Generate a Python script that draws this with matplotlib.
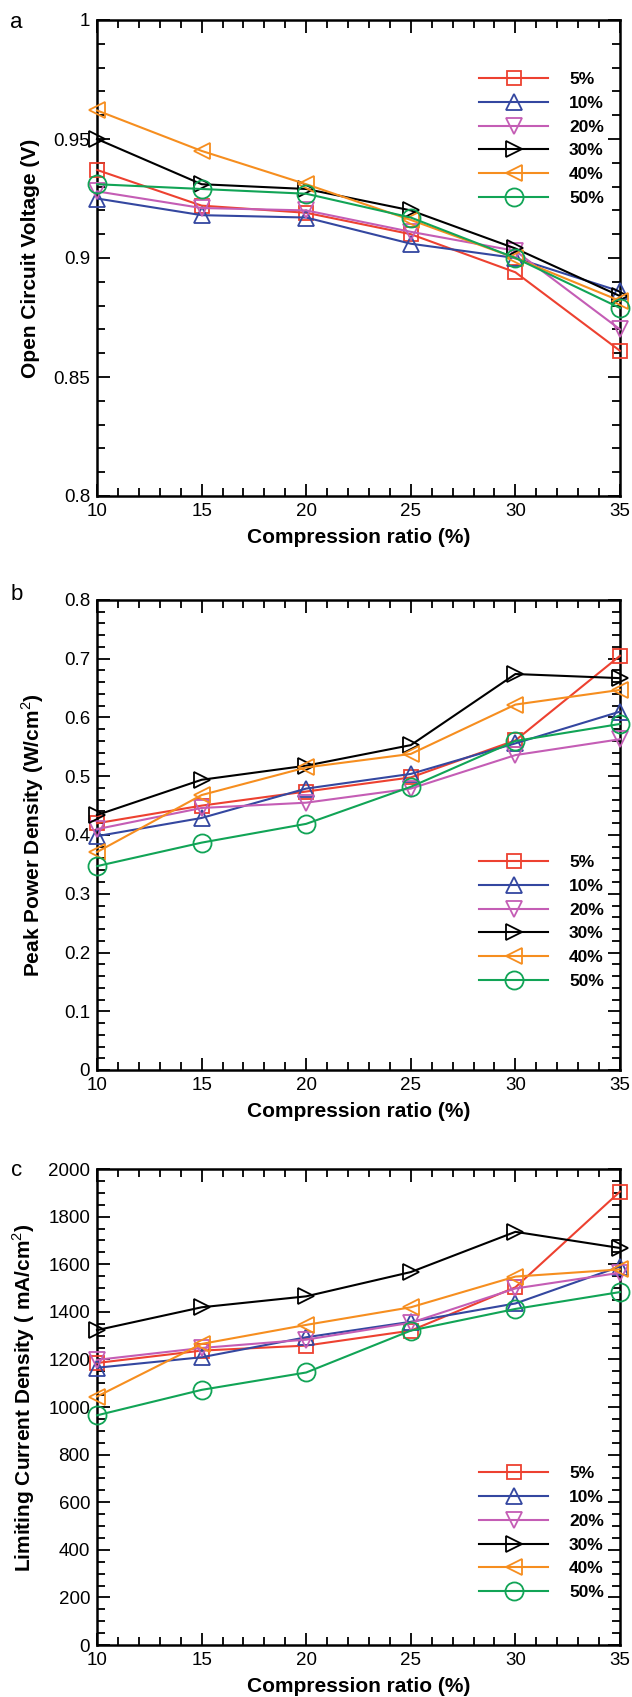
import matplotlib
matplotlib.use("Agg")
import matplotlib.pyplot as plt
from matplotlib.ticker import MultipleLocator, FixedLocator, FixedFormatter

plt.rcParams["font.family"] = ["Liberation Sans", "DejaVu Sans"]
plt.rcParams["mathtext.fontset"] = "custom"
plt.rcParams["mathtext.rm"] = "Liberation Sans"
plt.rcParams["mathtext.bf"] = "Liberation Sans:bold"

# compression ratio on the x axis
x = [10, 15, 20, 25, 30, 35]
series_labels = ["5%", "10%", "20%", "30%", "40%", "50%"]

# (a) open circuit voltage, V
ocv_5 = [0.937, 0.922, 0.919, 0.910, 0.894, 0.861]
ocv_10 = [0.925, 0.918, 0.917, 0.906, 0.900, 0.886]
ocv_20 = [0.928, 0.921, 0.920, 0.911, 0.903, 0.870]
ocv_30 = [0.950, 0.931, 0.929, 0.920, 0.904, 0.884]
ocv_40 = [0.962, 0.945, 0.931, 0.916, 0.900, 0.882]
ocv_50 = [0.931, 0.929, 0.927, 0.917, 0.900, 0.879]

# (b) peak power density, W/cm2
ppd_5 = [0.420, 0.450, 0.474, 0.498, 0.561, 0.705]
ppd_10 = [0.398, 0.429, 0.479, 0.504, 0.556, 0.610]
ppd_20 = [0.410, 0.446, 0.455, 0.479, 0.536, 0.563]
ppd_30 = [0.434, 0.494, 0.518, 0.553, 0.674, 0.667]
ppd_40 = [0.371, 0.468, 0.515, 0.538, 0.622, 0.647]
ppd_50 = [0.347, 0.387, 0.419, 0.482, 0.560, 0.589]

# (c) limiting current density, mA/cm2
lcd_5 = [1185, 1237, 1258, 1321, 1503, 1905]
lcd_10 = [1165, 1209, 1293, 1358, 1435, 1590]
lcd_20 = [1198, 1248, 1283, 1354, 1498, 1564]
lcd_30 = [1323, 1419, 1465, 1567, 1736, 1668]
lcd_40 = [1044, 1265, 1345, 1419, 1548, 1578]
lcd_50 = [965, 1072, 1145, 1321, 1412, 1483]

ocv_ticks = [0.8, 0.85, 0.9, 0.95, 1.0]
ocv_ticklabels = ["0.8", "0.85", "0.9", "0.95", "1"]
ppd_ticks = [0, 0.1, 0.2, 0.3, 0.4, 0.5, 0.6, 0.7, 0.8]
ppd_ticklabels = ["0", "0.1", "0.2", "0.3", "0.4", "0.5", "0.6", "0.7", "0.8"]
lcd_ticks = [0, 200, 400, 600, 800, 1000, 1200, 1400, 1600, 1800, 2000]
lcd_ticklabels = [str(t) for t in lcd_ticks]

colors = ["#ED4130", "#3447A0", "#C45DB5", "#000000", "#F68E1F", "#11A456"]
markers = ["s", "^", "v", ">", "<", "o"]
msizes = [10, 11, 11, 11, 11, 13]

W, H = 632, 1697
fig = plt.figure(figsize=(W / 100, H / 100), dpi=100)


def px_axes(top, bottom, left=97, right=620):
    return fig.add_axes([left / W, 1 - bottom / H, (right - left) / W, (bottom - top) / H])


def style(ax, ylim, yticks, yticklabels, yminor):
    ax.set_xlim(10, 35)
    ax.set_ylim(*ylim)
    ax.xaxis.set_major_locator(FixedLocator(x))
    ax.xaxis.set_minor_locator(MultipleLocator(1))
    ax.yaxis.set_major_locator(FixedLocator(yticks))
    ax.yaxis.set_major_formatter(FixedFormatter(yticklabels))
    ax.yaxis.set_minor_locator(MultipleLocator(yminor))
    ax.tick_params(which="both", direction="in", top=True, right=True, width=1.3,
                   labelsize=13.5, pad=5)
    ax.tick_params(which="major", length=9)
    ax.tick_params(which="minor", length=6)
    for sp in ax.spines.values():
        sp.set_linewidth(1.8)
    ax.set_xlabel("Compression ratio (%)", fontsize=15, fontweight="bold", va="center")
    ax.xaxis.set_label_coords(0.5, -0.088)


def draw(ax, series, legend_y):
    for ys, lab, c, m, ms in zip(series, series_labels, colors, markers, msizes):
        ax.plot(x, ys, color=c, marker=m, markersize=ms, markerfacecolor="none",
                markeredgecolor=c, markeredgewidth=1.3, linewidth=1.5, label=lab,
                clip_on=False, zorder=3)
    leg = ax.legend(loc="center left", bbox_to_anchor=(0.73, legend_y), frameon=False,
                    handlelength=4.0, handletextpad=1.2, labelspacing=0.5,
                    borderpad=0, borderaxespad=0, prop={"weight": "bold", "size": 12.5})
    return leg


ax_a = px_axes(20, 496)
draw(ax_a, [ocv_5, ocv_10, ocv_20, ocv_30, ocv_40, ocv_50], 0.75)
style(ax_a, (0.8, 1.0), ocv_ticks, ocv_ticklabels, 0.01)
ax_a.set_ylabel("Open Circuit Voltage (V)", fontsize=15, fontweight="bold", va="center")
ax_a.yaxis.set_label_coords(-0.128, 0.5)

ax_b = px_axes(600, 1070)
draw(ax_b, [ppd_5, ppd_10, ppd_20, ppd_30, ppd_40, ppd_50], 0.315)
style(ax_b, (0, 0.8), ppd_ticks, ppd_ticklabels, 0.02)
ax_b.set_ylabel(r"Peak Power Density (W/cm$^\mathrm{2}$)", fontsize=15,
                fontweight="bold", va="center")
ax_b.yaxis.set_label_coords(-0.123, 0.5)

ax_c = px_axes(1169, 1645)
draw(ax_c, [lcd_5, lcd_10, lcd_20, lcd_30, lcd_40, lcd_50], 0.235)
style(ax_c, (0, 2000), lcd_ticks, lcd_ticklabels, 50)
ax_c.set_ylabel(r"Limiting Current Density ( mA/cm$^\mathrm{2}$)", fontsize=15,
                fontweight="bold", va="center")
ax_c.yaxis.set_label_coords(-0.141, 0.52)

for letter, (lx, ly) in zip("abc", [(16, 22), (17, 594), (17, 1170)]):
    fig.text(lx / W, 1 - ly / H, letter, fontsize=16, ha="center", va="center")

fig.savefig("out.png", dpi=100)
